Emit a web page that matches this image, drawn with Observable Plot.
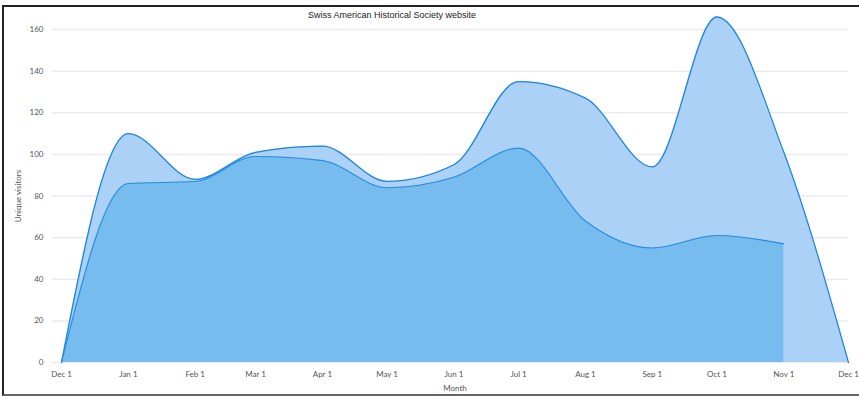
<!DOCTYPE html>
<html>
<head>
<meta charset="utf-8">
<script src="https://cdn.jsdelivr.net/npm/d3@7"></script>
<script src="https://cdn.jsdelivr.net/npm/@observablehq/plot@0.6"></script>
<style>
  html, body { margin: 0; padding: 0; background: #fff; }
  #wrap { position: relative; width: 859px; height: 400px; overflow: hidden; }
  #frame { position: absolute; left: 2px; top: 5px; width: 870px; height: 391px;
           border-top: 2px solid #222; border-left: 2px solid #222; border-bottom: 2px solid #666; box-sizing: border-box; pointer-events: none; }
  #title { position: absolute; top: 10px; left: 0; width: 784px; text-align: center;
           font-family: "Liberation Sans", Arial, sans-serif; font-size: 9px; color: #222; }
  #chart { position: absolute; left: 0; top: 0; }
</style>
</head>
<body>
<div id="wrap">
  <div id="chart"></div>
  <div id="title">Swiss American Historical Society website</div>
  <div id="frame"></div>
</div>
<script>
const months = ["2018-12-01","2019-01-01","2019-02-01","2019-03-01","2019-04-01","2019-05-01","2019-06-01","2019-07-01","2019-08-01","2019-09-01","2019-10-01","2019-11-01","2019-12-01"];
const totalVisitors = [0, 110, 88, 101, 104, 87, 95, 135, 127, 94, 166, 101, 0];
const monthsB = months.slice(0, 12);
const otherVisitors = [0, 86, 87, 99, 97, 84, 89, 103, 68, 55, 61, 57];
const yTicks = [0, 20, 40, 60, 80, 100, 120, 140, 160];

const parse = d3.utcParse("%Y-%m-%d");
const dataA = months.map((m, i) => ({date: parse(m), value: totalVisitors[i]}));
const dataB = monthsB.map((m, i) => ({date: parse(m), value: otherVisitors[i]}));
const xTicks = months.map(parse);

const curve = "monotone-x";
const plot = Plot.plot({
  width: 859,
  height: 400,
  marginLeft: 61,
  marginRight: 11,
  marginTop: 29,
  marginBottom: 38,
  style: {fontFamily: "Lato, 'Open Sans', sans-serif", fontSize: "8px", color: "#555", background: "transparent"},
  x: {type: "utc", domain: [xTicks[0], xTicks[xTicks.length - 1]], ticks: xTicks, tickFormat: d3.utcFormat("%b %-d"), tickSize: 0, tickPadding: 9, label: "Month", labelAnchor: "center", labelOffset: 28, labelArrow: "none"},
  y: {domain: [0, 160], ticks: yTicks, tickSize: 0, tickPadding: 18, label: "Unique visitors", labelAnchor: "center", labelOffset: 46, labelArrow: "none"},
  marks: [
    Plot.ruleY(yTicks, {stroke: "#ebebeb", strokeWidth: 1.5, insetLeft: -9}),
    Plot.areaY(dataA, {x: "date", y: "value", fill: "#abd1f7", curve}),
    Plot.areaY(dataB, {x: "date", y: "value", fill: "#77bcee", curve}),
    Plot.lineY(dataA, {x: "date", y: "value", stroke: "#1f86de", strokeWidth: 1.3, curve}),
    Plot.lineY(dataB, {x: "date", y: "value", stroke: "#2a8ee0", strokeWidth: 1.1, curve})
  ]
});
document.getElementById("chart").appendChild(plot);
</script>
</body>
</html>
